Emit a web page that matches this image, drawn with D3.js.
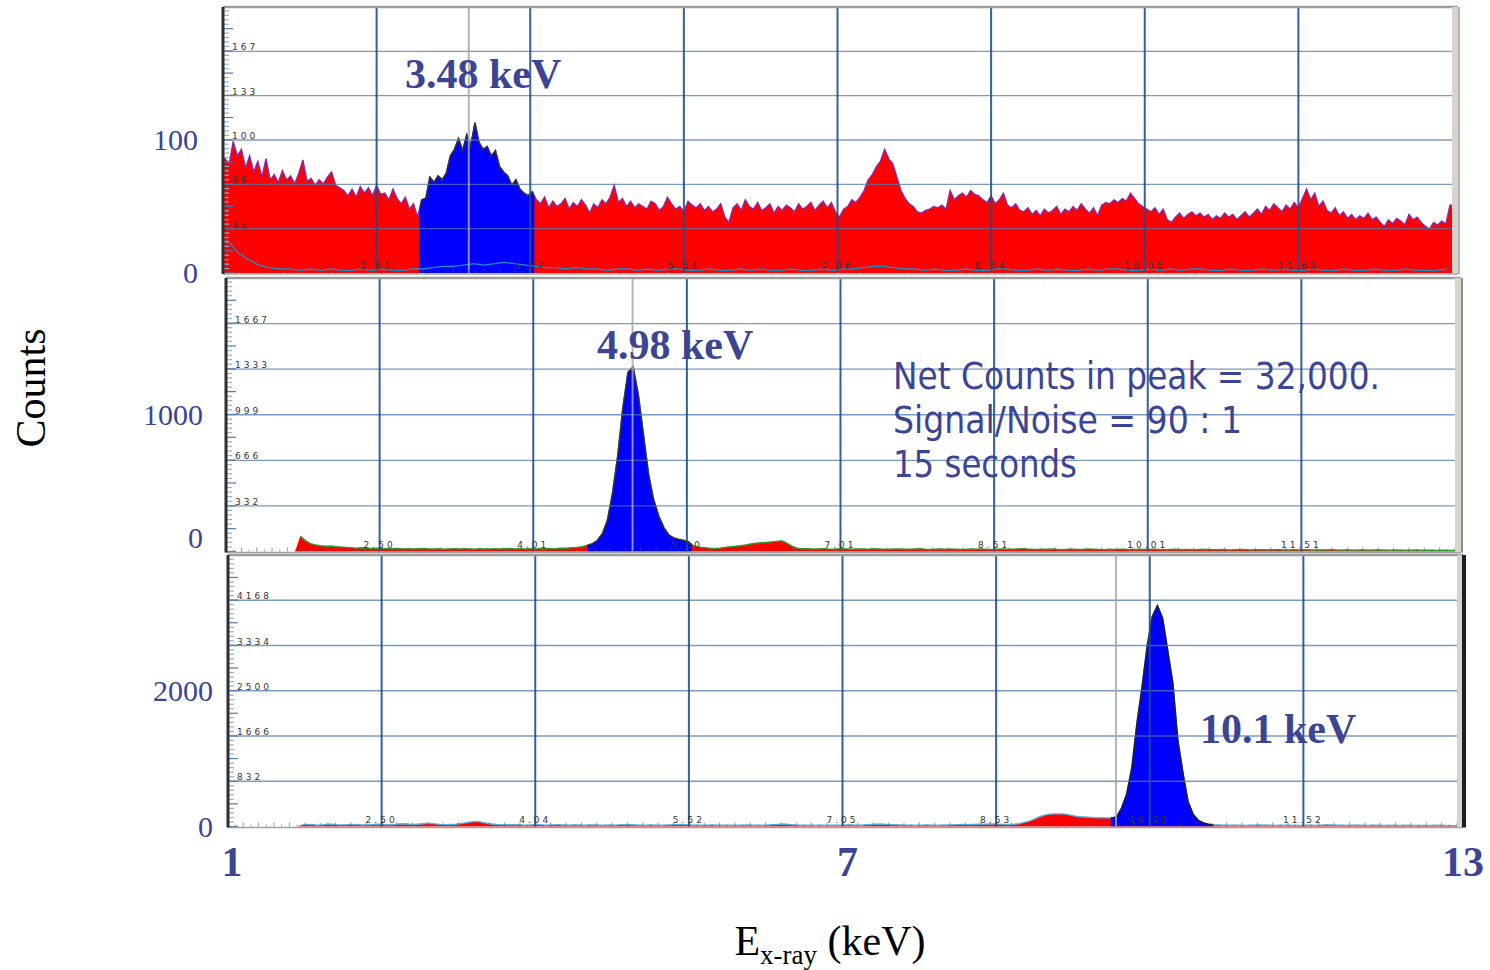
<!DOCTYPE html>
<html>
<head>
<meta charset="utf-8">
<script src="https://cdn.jsdelivr.net/npm/d3@7"></script>
<style>
  body { margin: 0; background: #fff; }
</style>
</head>
<body>
<svg id="chart" width="1490" height="970"></svg>
<script>
// ---------- data ----------
// panel 1: 0.04 keV bins from 1 keV
const step1 = 0.04;
const spectrum1 = [
  86, 82, 99, 88, 93, 79, 88, 76, 84, 72,
  86, 70, 74, 68, 77, 70, 73, 67, 75, 85,
  69, 71, 66, 70, 67, 72, 76, 66, 64, 62,
  58, 63, 57, 65, 60, 64, 58, 66, 59, 60,
  55, 63, 56, 52, 57, 48, 52, 42,
  55, 56, 72, 68, 73, 70, 75, 88, 93, 101,
  92, 104, 96, 113, 98, 93, 95, 88, 92, 80,
  76, 73, 66, 70, 63, 60, 58, 61,
  55, 52, 57, 49, 54, 50, 52, 56, 48, 53,
  50, 55, 51, 45, 52, 49, 55, 52, 57, 66,
  53, 56, 50, 54, 49, 52, 50, 48, 54, 52,
  47, 50, 57, 52, 48, 50, 46, 54, 51, 49,
  52, 47, 50, 46, 48, 52, 42, 38, 49, 52,
  47, 55, 50, 48, 53, 47, 49, 52, 45, 50,
  47, 51, 49, 46, 52, 48, 50, 53, 47, 51,
  54, 49, 53, 46, 42, 48, 50, 55, 53, 57,
  62, 70, 74, 80, 84, 93, 86, 82, 72, 62,
  56, 52, 50, 46, 45, 47, 48, 50, 49, 51,
  48, 62, 55, 58, 60, 57, 62, 59, 58, 55,
  53, 58, 52, 55, 60, 51, 49, 52, 47, 46,
  49, 44, 47, 43, 48, 45, 47, 50, 44, 48,
  46, 50, 47, 52, 48, 45, 49, 43, 51, 53,
  52, 55, 53, 56, 54, 60, 56, 52, 50, 48,
  46, 49, 44, 48, 40, 38, 42, 45, 41, 44,
  46, 43, 45, 42, 44, 40, 43, 41, 45, 42,
  44, 40, 43, 46, 42, 45, 48, 44, 50, 47,
  52, 49, 46, 51, 48, 53, 49, 56, 63, 55,
  60, 50, 54, 47, 45, 49, 43, 46, 41, 44,
  40, 43, 41, 45, 40, 42, 38, 35, 40, 37,
  41, 39, 36, 44, 40, 42, 38, 35, 33, 38,
  36, 39, 37, 51
];
// low trace in panel 1 (cyan), 0.1 keV bins
const stepLow1 = 0.1;
const lowTrace1 = [
  24, 15, 10, 6, 4, 3, 3, 2, 3,
  2, 3, 2, 2, 3, 2, 3, 2, 2, 3,
  3, 4, 5, 5, 6, 7, 6, 7, 8, 7, 6, 5,
  4, 4, 3, 4, 3, 3, 2, 3, 3, 2, 3, 2, 3, 3, 2, 2, 3, 2, 2, 3,
  2, 3, 2, 2, 3, 2, 2, 3, 2, 3, 3, 4, 5, 5, 4, 3, 3, 2, 3, 2,
  2, 3, 2, 2, 3, 3, 2, 2, 3, 2, 3, 2, 2, 3, 2, 3, 3, 2, 2, 3,
  2, 3, 2, 3, 3, 2, 2, 3, 2, 2, 3, 2, 3, 2, 2, 3, 2, 2, 3, 2,
  2, 3, 2, 2, 3, 2, 2, 2, 3
];

// panel 2: 0.05 keV bins
const step2 = 0.05;
const spectrum2 = [
  0, 0, 0, 0, 0, 0, 0, 0, 0, 0, 0, 0, 0, 0,
  113, 80, 58, 48, 42, 38, 40, 36, 33, 30,
  28, 25, 27, 24, 22, 24, 21, 23, 20, 22,
  19, 21, 18, 20, 22, 19, 18, 20, 17, 19,
  21, 18, 20, 19, 17, 20, 18, 19, 21, 18,
  20, 22, 19, 21, 18, 20, 19, 22, 20, 21,
  22, 25, 24, 27, 30, 35,
  45, 55, 80, 130, 230, 430, 700, 1050, 1310, 1350, 1150, 860, 570, 380, 260, 175, 120, 98, 88, 80, 62,
  40, 32, 28, 24, 22, 25, 30, 35, 38, 42, 48, 55, 60, 64, 66, 70, 74, 78, 62, 40, 25, 20,
  20, 18, 19, 21, 18, 17, 19, 20, 18, 16,
  18, 19, 17, 20, 18, 16, 17, 19, 18, 17,
  16, 18, 20, 17, 15, 17, 18, 16, 19, 17,
  15, 16, 18, 17, 19, 16, 15, 17, 18, 16,
  17, 19, 21, 18, 16, 15, 17, 16, 18, 15,
  14, 16, 17, 15, 16, 18, 17, 15, 14, 16,
  15, 17, 16, 14, 15, 16, 15, 17, 16, 14,
  13, 15, 16, 14, 15, 13, 14, 16, 15, 13,
  14, 15, 13, 12, 14, 15, 13, 12, 14, 13,
  12, 13, 14, 12, 11, 13, 12, 14, 12, 11,
  12, 11, 13, 12, 10, 12, 11, 10, 12, 11,
  10, 11, 12, 10, 9, 11, 10, 9, 10, 11,
  9, 10, 9, 8, 10, 9, 8
];

// panel 3: 0.05 keV bins
const step3 = 0.05;
const spectrum3 = [
  0, 0, 0, 0, 0, 0, 0, 0, 0, 0, 0, 0, 0, 0,
  30, 40, 35, 25, 30, 45, 38, 30, 28, 35,
  40, 32, 28, 30, 36, 42, 35, 30, 38, 45,
  50, 42, 38, 46, 55, 60, 48, 40, 35, 38,
  42, 55, 70, 85, 95, 80, 60, 45, 38, 35,
  32, 30, 35, 28, 25, 30, 33, 28, 26, 30,
  32, 28, 25, 30, 27, 24, 28, 30, 26, 24,
  28, 25, 30, 35, 32, 28, 26, 24, 28, 25,
  23, 26, 30, 34, 38, 32, 27, 25, 24, 26,
  28, 25, 23, 26, 24, 22, 25, 27, 24, 22,
  25, 28, 35, 40, 45, 38, 30, 26, 24, 22,
  24, 26, 23, 25, 22, 24, 28, 30, 26, 24,
  30, 38, 42, 45, 40, 35, 30, 28, 26, 25,
  24, 26, 28, 25, 23, 26, 28, 30, 34, 38,
  35, 38, 42, 40, 45, 48, 44, 40, 38, 42,
  50, 75, 100, 135, 180, 210, 228, 232, 232, 228,
  210, 190, 180, 175, 168, 162, 160, 158, 157,
  175, 340, 600, 1080, 1900, 2575, 3320, 3870, 4070, 3840,
  3250, 2650, 1580, 980, 450, 220, 110, 65, 40, 30,
  28, 25, 22, 26, 24, 20, 22, 25, 28, 24,
  22, 20, 24, 26, 22, 20, 18, 22, 24, 21,
  26, 30, 28, 24, 22, 20, 23, 25, 22, 20,
  24, 22, 19, 21, 23, 20, 18, 22, 20, 19,
  21, 18, 20, 22, 19, 17, 15
];

// regions of interest (blue) and peak markers, keV
const roi1 = [2.92, 4.04], roi2 = [4.53, 5.55], roi3 = [9.62, 10.62];
const marker1 = 3.40, marker2 = 4.97, marker3 = 9.67;

// vertical grid energies and the instrument's own labels for them
const gridEnergies = [2.5, 4, 5.5, 7, 8.5, 10, 11.5];
const xText1 = ["2.61", "4.04", "5.54", "7.06", "8.54", "10.05", "11.63"];
const xText2 = ["2.50", "4.01", "5.50", "7.01", "8.51", "10.01", "11.51"];
const xText3 = ["2.50", "4.04", "5.52", "7.05", "8.53", "10.05", "11.52"];

// horizontal grid counts and labels
const grid1 = [33.3, 66.7, 100, 133.3, 166.7];
const gridText1 = ["32", "66", "100", "133", "167"];
const grid2 = [333, 667, 1000, 1333, 1667];
const gridText2 = ["332", "666", "999", "1333", "1667"];
const grid3 = [833, 1667, 2500, 3333, 4167];
const gridText3 = ["832", "1666", "2500", "3334", "4168"];

// big count labels on the left, with where they sit on the count scale
const countText1 = ["0", "100"], countAt1 = [0, 100];
const countText2 = ["0", "1000"], countAt2 = [100, 1000];
const countText3 = ["0", "2000"], countAt3 = [0, 2500];

// big energy labels under the chart
const energyTicks = [1, 7, 13];

const peakLabels = ["3.48 keV", "4.98 keV", "10.1 keV"];
const noteLines = ["Net Counts in peak = 32,000.", "Signal/Noise = 90 : 1", "15 seconds"];

// ---------- setup ----------
const svg = d3.select("#chart");
const defs = svg.append("defs");
const serif = "'Liberation Serif', 'Times New Roman', serif";
const navy = "#3b4594";

const panels = [
  { id: 1, left: 223, right: 1452, top: 7, bottom: 273, yMax: 200,
    spec: spectrum1, step: step1, roi: roi1, marker: marker1,
    grid: grid1, gridText: gridText1, xText: xText1,
    countText: countText1, countAt: countAt1, countX: 198,
    edge: "#8a2aa0", roiEdge: "#333", rightEdge: "#b8b4ac",
    peak: peakLabels[0], peakX: 405, peakY: 88 },
  { id: 2, left: 226, right: 1455, top: 278, bottom: 551.5, yMax: 2000,
    spec: spectrum2, step: step2, roi: roi2, marker: marker2,
    grid: grid2, gridText: gridText2, xText: xText2,
    countText: countText2, countAt: countAt2, countX: 203,
    edge: "#2e9a2e", roiEdge: "#333", rightEdge: "#8c8c8c",
    peak: peakLabels[1], peakX: 597, peakY: 359 },
  { id: 3, left: 228, right: 1457, top: 555, bottom: 826.5, yMax: 5000,
    spec: spectrum3, step: step3, roi: roi3, marker: marker3,
    grid: grid3, gridText: gridText3, xText: xText3,
    countText: countText3, countAt: countAt3, countX: 213,
    edge: "#4fb0e6", roiEdge: "#222", rightEdge: "#1e1e1e",
    peak: peakLabels[2], peakX: 1200, peakY: 743 }
];

panels.forEach(drawPanel);

function drawPanel(p) {
  const x = d3.scaleLinear().domain([1, 13]).range([p.left, p.right]);
  const y = d3.scaleLinear().domain([0, p.yMax]).range([p.bottom, p.top]);
  const g = svg.append("g");

  g.append("rect")
    .attr("x", p.left).attr("y", p.top)
    .attr("width", p.right - p.left).attr("height", p.bottom - p.top)
    .attr("fill", "#fff");

  // spectrum points at bin centres, padded to the panel edges
  const n = p.spec.length;
  const pts = [[1, p.spec[0]]]
    .concat(p.spec.map((v, i) => [1 + p.step * (i + 0.5), v]))
    .concat([[13, p.spec[n - 1]]]);

  const area = d3.area()
    .x(d => x(d[0]))
    .y0(y(0))
    .y1(d => y(d[1]));
  const line = d3.line()
    .defined(d => d[1] > 0)
    .x(d => x(d[0]))
    .y(d => y(d[1]));

  // red background part
  g.append("path").datum(pts)
    .attr("d", area)
    .attr("fill", "#ff0000");
  g.append("path").datum(pts)
    .attr("d", line)
    .attr("fill", "none")
    .attr("stroke", p.edge)
    .attr("stroke-width", 1.4);

  // blue ROI part
  defs.append("clipPath").attr("id", "roi" + p.id)
    .append("rect")
    .attr("x", x(p.roi[0])).attr("y", p.top)
    .attr("width", x(p.roi[1]) - x(p.roi[0]))
    .attr("height", p.bottom - p.top);
  const gRoi = g.append("g").attr("clip-path", `url(#roi${p.id})`);
  gRoi.append("path").datum(pts)
    .attr("d", area)
    .attr("fill", "#0000ff");
  gRoi.append("path").datum(pts)
    .attr("d", line)
    .attr("fill", "none")
    .attr("stroke", p.roiEdge)
    .attr("stroke-width", 1.5);

  // low cyan trace in panel 1
  if (p.id === 1) {
    const low = lowTrace1.map((v, i) => [1 + stepLow1 * (i + 0.5), v]);
    g.append("path").datum([[1, lowTrace1[0]]].concat(low))
      .attr("d", d3.line().x(d => x(d[0])).y(d => y(d[1])))
      .attr("fill", "none")
      .attr("stroke", "#1b8fc8")
      .attr("stroke-width", 1.3);
  }

  // horizontal grid
  g.selectAll(".hgrid").data(p.grid).join("line")
    .attr("x1", p.left).attr("x2", p.right)
    .attr("y1", d => y(d)).attr("y2", d => y(d))
    .attr("stroke", "#4f78ad")
    .attr("stroke-opacity", 0.75)
    .attr("stroke-width", 1.3);

  // vertical grid
  g.selectAll(".vgrid").data(gridEnergies).join("line")
    .attr("x1", d => x(d)).attr("x2", d => x(d))
    .attr("y1", p.top).attr("y2", p.bottom)
    .attr("stroke", "#1d4f8c")
    .attr("stroke-opacity", 0.9)
    .attr("stroke-width", 2);

  // peak marker
  g.append("line")
    .attr("x1", x(p.marker)).attr("x2", x(p.marker))
    .attr("y1", p.top).attr("y2", p.bottom)
    .attr("stroke", "#a8a8a8")
    .attr("stroke-opacity", 0.85)
    .attr("stroke-width", 2);

  // minor ticks on the left edge
  const gridStep = p.grid[1] - p.grid[0];
  const minor = d3.range(0, p.yMax + 0.001, gridStep / 10);
  g.selectAll(".ytick").data(minor).join("line")
    .attr("x1", p.left)
    .attr("x2", (d, i) => p.left + (i % 5 === 0 ? 10 : 6))
    .attr("y1", d => y(d)).attr("y2", d => y(d))
    .attr("stroke", (d, i) => (i % 5 === 0 ? "#4f78ad" : "#8fb0d6"))
    .attr("stroke-width", 1.2);

  // minor ticks along the bottom
  const xMinor = d3.range(1, 13.001, 0.075);
  g.selectAll(".xtick").data(xMinor).join("line")
    .attr("x1", d => x(d)).attr("x2", d => x(d))
    .attr("y1", p.bottom)
    .attr("y2", (d, i) => p.bottom - (i % 2 === 0 ? 4 : 2))
    .attr("stroke", "#555")
    .attr("stroke-opacity", 0.6)
    .attr("stroke-width", 1);

  // small instrument labels
  g.selectAll(".ylab").data(p.grid).join("text")
    .attr("x", p.left + 9)
    .attr("y", d => y(d) - 1)
    .attr("font-family", "DejaVu Sans, sans-serif")
    .attr("font-size", 9)
    .attr("letter-spacing", 3)
    .attr("fill", "#333")
    .text((d, i) => p.gridText[i]);

  g.selectAll(".xlab").data(gridEnergies).join("text")
    .attr("x", d => x(d))
    .attr("y", p.bottom - 4)
    .attr("text-anchor", "middle")
    .attr("font-family", "DejaVu Sans, sans-serif")
    .attr("font-size", 9)
    .attr("letter-spacing", 3)
    .attr("fill", "#333")
    .text((d, i) => p.xText[i]);

  // frame
  g.append("line")
    .attr("x1", p.left).attr("x2", p.right + 6)
    .attr("y1", p.top).attr("y2", p.top)
    .attr("stroke", "#9c9c9c").attr("stroke-width", 2.5);
  g.append("line")
    .attr("x1", p.left).attr("x2", p.right + 6)
    .attr("y1", p.bottom + 1).attr("y2", p.bottom + 1)
    .attr("stroke", "#a0a0a0").attr("stroke-width", 1.5);
  g.append("line")
    .attr("x1", p.left).attr("x2", p.left)
    .attr("y1", p.top).attr("y2", p.bottom + 1)
    .attr("stroke", "#2e2e2e").attr("stroke-width", 3);
  g.append("rect")
    .attr("x", p.right).attr("y", p.top)
    .attr("width", 6).attr("height", p.bottom - p.top)
    .attr("fill", "#d8d4cc");
  g.append("line")
    .attr("x1", p.right + 7).attr("x2", p.right + 7)
    .attr("y1", p.top).attr("y2", p.bottom + 1)
    .attr("stroke", p.rightEdge).attr("stroke-width", p.id === 3 ? 4 : 2);

  // big count labels
  g.selectAll(".count").data(p.countAt).join("text")
    .attr("x", p.countX)
    .attr("y", d => y(d) + 10)
    .attr("text-anchor", "end")
    .attr("font-family", serif)
    .attr("font-size", 30)
    .attr("fill", navy)
    .text((d, i) => p.countText[i]);

  // peak label
  g.append("text")
    .attr("x", p.peakX)
    .attr("y", p.peakY)
    .attr("font-family", serif)
    .attr("font-weight", "bold")
    .attr("font-size", 42)
    .attr("fill", navy)
    .text(p.peak);
}

// note in panel 2
const noteWidths = [487, 349, 184];
svg.append("g").selectAll("text").data(noteLines).join("text")
  .attr("x", 893)
  .attr("y", (d, i) => 389 + i * 44)
  .attr("font-family", "DejaVu Sans, Verdana, sans-serif")
  .attr("font-size", 37)
  .attr("fill", navy)
  .attr("textLength", (d, i) => noteWidths[i])
  .attr("lengthAdjust", "spacingAndGlyphs")
  .text(d => d);

// energy axis labels
const xBig = d3.scaleLinear().domain([1, 13]).range([232, 1463]);
svg.append("g").selectAll("text").data(energyTicks).join("text")
  .attr("x", d => xBig(d))
  .attr("y", 876)
  .attr("text-anchor", "middle")
  .attr("font-family", serif)
  .attr("font-weight", "bold")
  .attr("font-size", 42)
  .attr("fill", navy)
  .text(d => d);

// axis titles
svg.append("text")
  .attr("transform", "translate(45,388) rotate(-90)")
  .attr("text-anchor", "middle")
  .attr("font-family", serif)
  .attr("font-size", 42)
  .attr("fill", "#000")
  .text("Counts");

const xTitle = svg.append("text")
  .attr("x", 830)
  .attr("y", 955)
  .attr("text-anchor", "middle")
  .attr("font-family", serif)
  .attr("font-size", 42)
  .attr("fill", "#000");
xTitle.append("tspan").text("E");
xTitle.append("tspan").attr("font-size", 27).attr("dy", 9).text("x-ray");
xTitle.append("tspan").attr("dy", -9).text(" (keV)");
</script>
</body>
</html>
